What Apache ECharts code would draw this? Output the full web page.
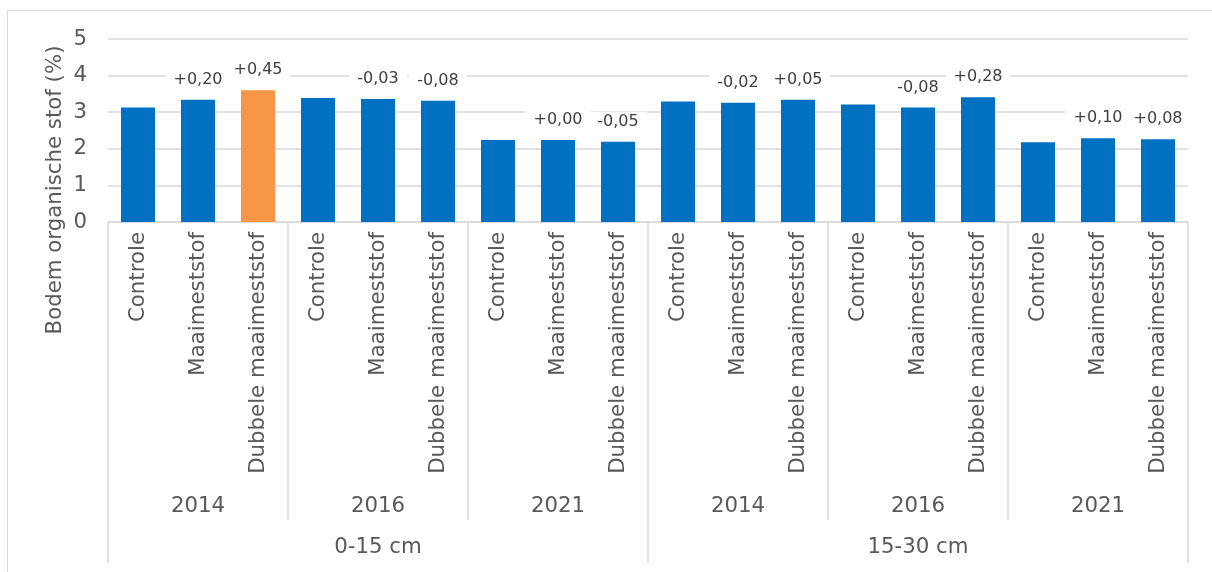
<!DOCTYPE html>
<html>
<head>
<meta charset="utf-8">
<script src="https://cdn.jsdelivr.net/npm/echarts@6/dist/echarts.min.js"></script>
<style>
  html, body { margin: 0; padding: 0; background: #fff; overflow: hidden; }
  #frame { position: absolute; left: 7px; top: 10px; width: 1300px; height: 700px; border: 1px solid #d9d9d9; }
  #chart { position: absolute; left: 0; top: 0; width: 1212px; height: 572px; }
</style>
</head>
<body>
<div id="frame"></div>
<div id="chart"></div>
<script>
// categorieen
const treatments = ['Controle', 'Maaimeststof', 'Dubbele maaimeststof']
const years = ['2014', '2016', '2021']
const depths = ['0-15 cm', '15-30 cm']

// organische stof (%) per staaf, in volgorde diepte > jaar > behandeling
const values = [3.13, 3.34, 3.60, 3.39, 3.36, 3.31, 2.24, 2.24, 2.19,
                3.29, 3.26, 3.34, 3.21, 3.13, 3.41, 2.18, 2.29, 2.26]
// verschil t.o.v. controle
const diffLabels = ['', '+0,20', '+0,45', '', '-0,03', '-0,08', '', '+0,00', '-0,05',
                    '', '-0,02', '+0,05', '', '-0,08', '+0,28', '', '+0,10', '+0,08']
const highlightIndex = 2

const barCats = []
const yearCats = []
depths.forEach(d => {
  years.forEach(y => {
    yearCats.push(y)
    treatments.forEach(t => barCats.push(t))
  })
})

const font = 'DejaVu Sans'
const gray = '#d9d9d9'
const fs = 21.3

const chart = echarts.init(document.getElementById('chart'))
chart.setOption({
  animation: false,
  textStyle: { fontFamily: font },
  grid: { left: 108, right: 24, top: 39, bottom: 350 },
  graphic: [{
    type: 'text',
    rotation: Math.PI / 2,
    x: 55, y: 190,
    style: {
      text: 'Bodem organische stof (%)',
      font: fs + 'px ' + font,
      fill: '#595959',
      align: 'center',
      verticalAlign: 'middle'
    }
  }],
  xAxis: [
    {
      type: 'category',
      data: barCats,
      position: 'bottom',
      axisLine: { show: true, lineStyle: { color: gray, width: 1.5 } },
      axisTick: { show: false },
      axisLabel: { rotate: 90, fontSize: fs, fontFamily: font, color: '#595959', margin: 10, interval: 0 }
    },
    {
      type: 'category',
      data: yearCats,
      position: 'bottom',
      axisLine: { show: false },
      axisTick: { show: true, interval: 0, length: 298, lineStyle: { color: gray, width: 1.5 } },
      axisLabel: { fontSize: fs, fontFamily: font, color: '#595959', margin: 274, interval: 0 }
    },
    {
      type: 'category',
      data: depths,
      position: 'bottom',
      axisLine: { show: false },
      axisTick: { show: true, interval: 0, length: 341, lineStyle: { color: gray, width: 1.5 } },
      axisLabel: { fontSize: fs, fontFamily: font, color: '#595959', margin: 315, interval: 0 }
    }
  ],
  yAxis: {
    type: 'value',
    min: 0,
    max: 5,
    interval: 1,
    axisLine: { show: false },
    axisTick: { show: false },
    axisLabel: { fontSize: fs, fontFamily: font, color: '#595959', margin: 21 },
    splitLine: { lineStyle: { color: gray, width: 1.5 } }
  },
  series: [{
    type: 'bar',
    xAxisIndex: 0,
    barWidth: 34,
    data: values.map((v, i) => ({
      value: v,
      itemStyle: { color: i === highlightIndex ? '#F79646' : '#0070C0' }
    })),
    label: {
      show: true,
      position: 'top',
      distance: 10,
      fontSize: 16,
      fontFamily: font,
      color: '#404040',
      backgroundColor: '#fff',
      padding: [2, 8],
      formatter: p => diffLabels[p.dataIndex]
    }
  }]
})
</script>
</body>
</html>
